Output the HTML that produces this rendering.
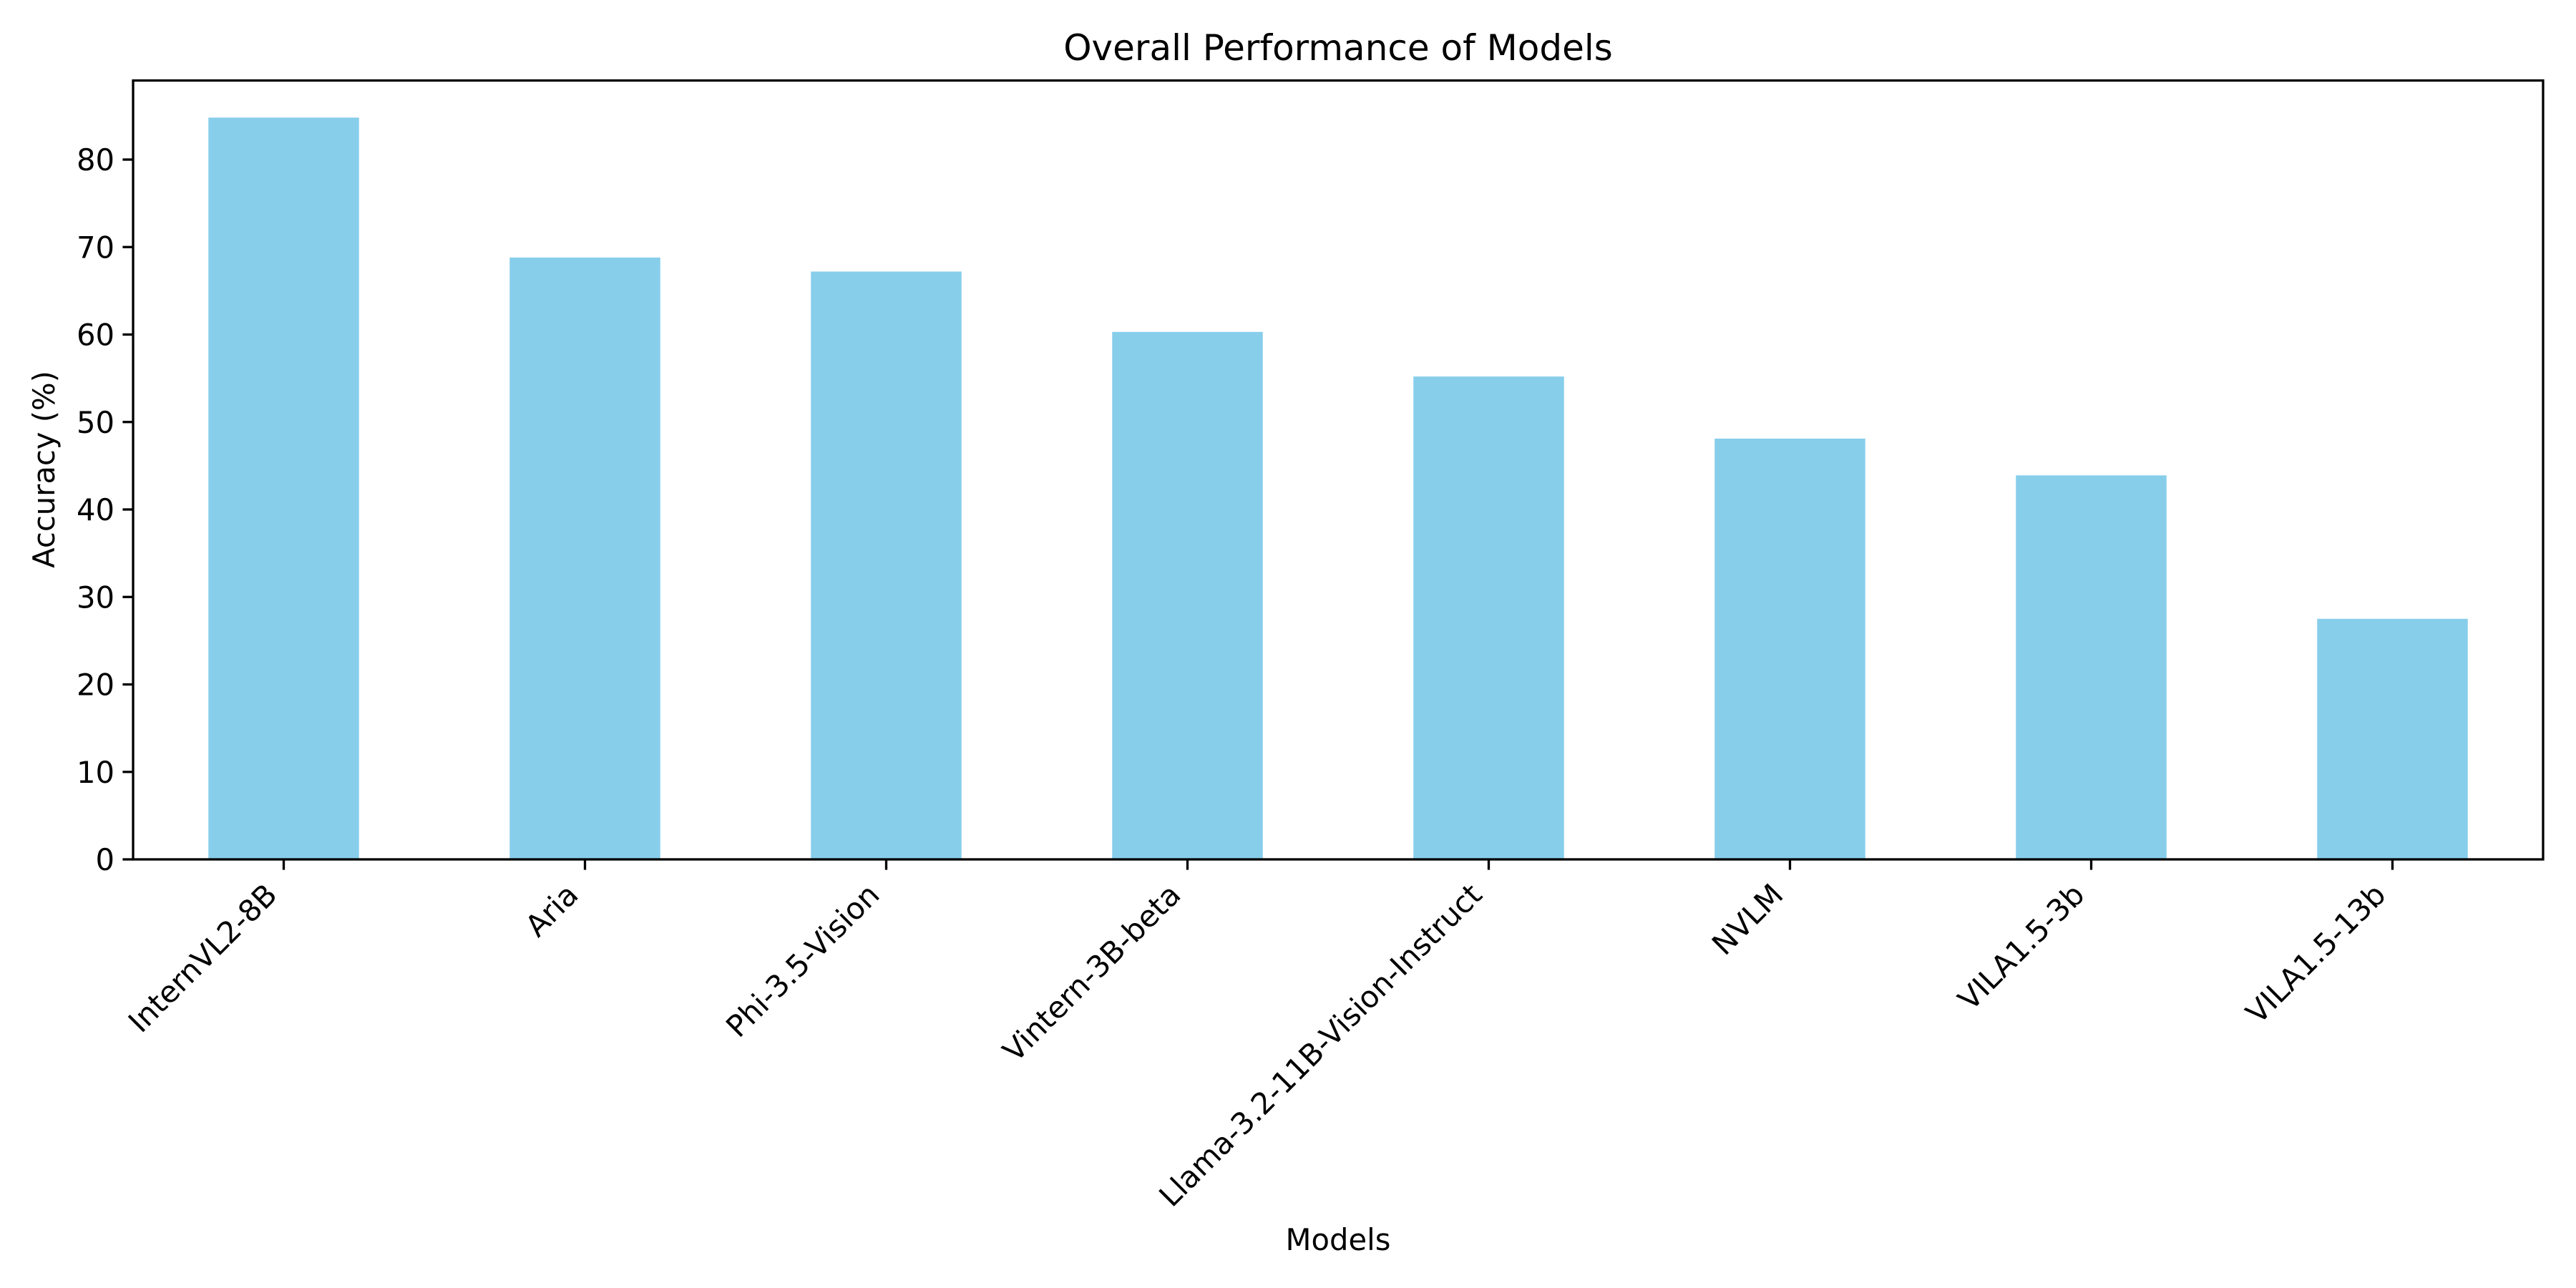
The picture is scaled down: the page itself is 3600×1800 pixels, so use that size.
<!DOCTYPE html>
<html><head><meta charset="utf-8"><style>
html,body{margin:0;padding:0;background:#fff;}
svg{display:block;font-family:"DejaVu Sans","Liberation Sans",sans-serif;}
</style></head><body>
<svg id="chart" width="3600" height="1800" viewBox="0 0 3600 1800" xmlns="http://www.w3.org/2000/svg">
<rect width="3600" height="1800" fill="#fff"/>
<text x="1870" y="84" font-size="50" text-anchor="middle">Overall Performance of Models</text>
<text transform="translate(76,656) rotate(-90)" font-size="41.7" text-anchor="middle">Accuracy (%)</text>
<text x="1870" y="1747" font-size="41.7" text-anchor="middle">Models</text>
<g id="bars"></g>
<g id="yticks"></g>
<g id="xticks"></g>
<rect x="186" y="112.5" width="3368" height="1088.5" fill="none" stroke="#000" stroke-width="3.3"/>
</svg>
<script>
const categories = ["InternVL2-8B","Aria","Phi-3.5-Vision","Vintern-3B-beta","Llama-3.2-11B-Vision-Instruct","NVLM","VILA1.5-3b","VILA1.5-13b"];
const values = [84.8, 68.8, 67.2, 60.3, 55.2, 48.1, 43.9, 27.5];
const yTicks = [0,10,20,30,40,50,60,70,80];

const L=186,R=3554,T=112.5,B=1201,YMAX=89.04;
const NS="http://www.w3.org/2000/svg";
function xs(i){return L+(i+0.5)*(R-L)/categories.length;}
function ys(v){return B-(v/YMAX)*(B-T);}
const bw=0.5*(R-L)/categories.length;
const gb=document.getElementById('bars'),gy=document.getElementById('yticks'),gx=document.getElementById('xticks');
function mk(tag,attrs){const e=document.createElementNS(NS,tag);for(const k in attrs)e.setAttribute(k,attrs[k]);return e;}
values.forEach((v,i)=>{
  const r=mk('rect',{x:xs(i)-bw/2,y:ys(v),width:bw,height:B-ys(v),fill:'#87ceeb'});
  
  
  gb.appendChild(r);
});
yTicks.forEach(t=>{
  const y=ys(t);
  const l=mk('line',{x1:L-14.6,x2:L,y1:y,y2:y,stroke:'#000','stroke-width':3.3});
  
  
  gy.appendChild(l);
  const tx=mk('text',{x:L-26,y:y+15,'font-size':41.7,'text-anchor':'end'});
  
  
  tx.textContent=t;gy.appendChild(tx);
});
categories.forEach((c,i)=>{
  const x=xs(i);
  const l=mk('line',{x1:x,x2:x,y1:B,y2:B+14.6,stroke:'#000','stroke-width':3.3});
  
  
  gx.appendChild(l);
  const ax=x-7,ay=B+29+23;
  const tx=mk('text',{x:0,y:0,'font-size':41.7,'text-anchor':'end',transform:`translate(${ax},${ay}) rotate(-45)`});
  
  
  tx.textContent=c;gx.appendChild(tx);
});
</script>
</body></html>
